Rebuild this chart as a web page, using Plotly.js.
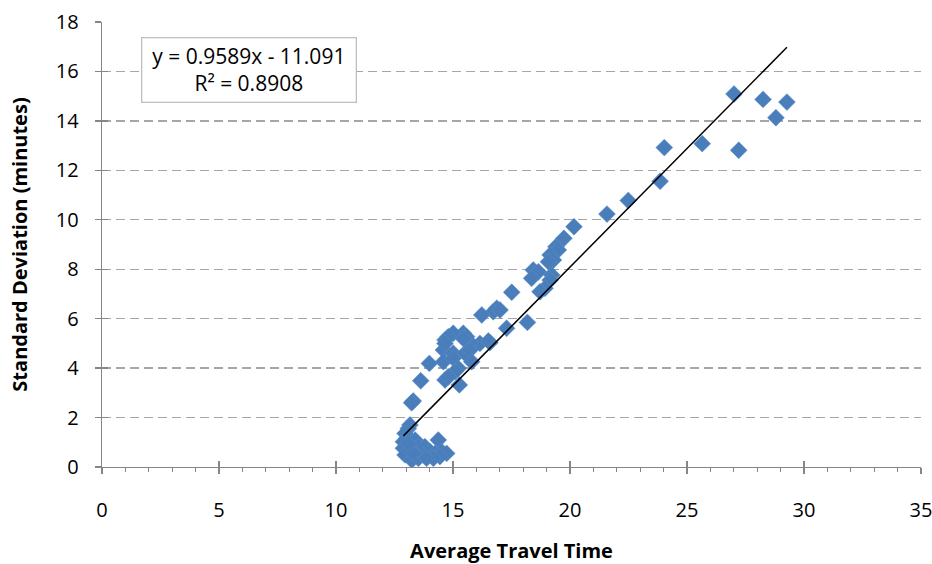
<!DOCTYPE html>
<html>
<head>
<meta charset="utf-8">
<script src="https://cdn.plot.ly/plotly-3.0.1.min.js"></script>
<style>
html,body{margin:0;padding:0;background:#fff;}
#chart{width:932px;height:564px;}
</style>
</head>
<body>
<div id="chart"></div>
<script>
// Average travel time (x) and standard deviation in minutes (y)
const avgTravelTime = [
  27.01, 28.25, 29.27, 28.80, 27.21, 25.65, 24.03, 23.85, 22.49, 21.58,
  20.17, 19.74, 19.40, 19.50, 19.15, 19.29, 19.08, 18.43, 18.65, 18.36,
  19.22, 19.15, 18.93, 18.72, 17.51, 16.87, 16.72, 17.01, 16.23, 18.18,
  17.29, 16.58, 16.15, 15.73, 15.44, 15.01, 15.58, 14.66, 14.80, 15.44,
  16.51, 14.59, 15.01, 15.51, 15.73, 14.59, 15.01, 15.80, 13.99, 15.23,
  15.09, 14.66, 14.80, 13.62, 15.27, 13.30, 13.23, 13.09, 13.16, 12.95,
  13.02, 12.88, 14.37, 13.38, 12.88, 13.16, 13.52, 13.80, 12.95, 13.24,
  13.52, 13.73, 14.02, 14.23, 14.52, 14.73, 14.44, 14.16, 13.87, 13.30,
  13.09, 14.66
];
const stdDeviation = [
  15.09, 14.87, 14.76, 14.13, 12.81, 13.08, 12.92, 11.56, 10.78, 10.23,
   9.72,  9.25,  8.91,  8.78,  8.58,  8.37,  8.30,  7.97,  7.90,  7.63,
   7.77,  7.56,  7.23,  7.09,  7.07,  6.42,  6.28,  6.35,  6.15,  5.85,
   5.61,  5.03,  5.00,  5.03,  5.41,  5.41,  5.27,  5.14,  5.27,  5.20,
   5.10,  4.73,  4.60,  4.60,  4.73,  4.26,  4.40,  4.26,  4.19,  3.99,
   3.86,  3.52,  3.65,  3.49,  3.32,  2.67,  2.60,  1.56,  1.70,  1.36,
   1.16,  1.02,  1.09,  1.09,  0.76,  0.69,  0.82,  0.82,  0.49,  0.28,
   0.35,  0.49,  0.62,  0.55,  0.62,  0.55,  0.42,  0.35,  0.35,  0.55,
   0.96,  5.00
];
// Trendline shown in the chart: y = 0.9589x - 11.091, R² = 0.8908
const trendSlope = 0.9589;
const trendIntercept = -11.091;
const trendLabel = ['y = 0.9589x - 11.091', 'R² = 0.8908'];
const xTickValues = [0, 5, 10, 15, 20, 25, 30, 35];
const yTickValues = [0, 2, 4, 6, 8, 10, 12, 14, 16, 18];

const xMin = Math.min(...avgTravelTime), xMax = Math.max(...avgTravelTime);
const trendX = [xMin, xMax];
const trendY = trendX.map(v => trendSlope * v + trendIntercept);

const font = '"Open Sans", Lato, sans-serif';
const axisCol = '#868686';
const fs = 20;

const traces = [
  {
    x: avgTravelTime, y: stdDeviation, type: 'scatter', mode: 'markers',
    marker: {symbol: 'diamond', size: 13, color: '#4A7EBB', line: {color: '#5B8FCB', width: 0.5}},
    hoverinfo: 'x+y', showlegend: false
  },
  {
    x: trendX, y: trendY, type: 'scatter', mode: 'lines',
    line: {color: '#000000', width: 1.5}, showlegend: false, hoverinfo: 'skip'
  },
  { x: [], y: [], xaxis: 'x2', yaxis: 'y2', type: 'scatter', mode: 'markers', showlegend: false }
];

const layout = {
  width: 932, height: 564,
  margin: {l: 102, r: 11, t: 22, b: 97},
  paper_bgcolor: '#ffffff', plot_bgcolor: '#ffffff',
  font: {family: font, size: fs, color: '#000'},
  showlegend: false,
  xaxis: {
    range: [0, 35], tickvals: xTickValues, ticktext: xTickValues.map(String),
    ticks: 'outside', ticklen: 6, tickcolor: axisCol, tickwidth: 1.3,
    minor: {dtick: 1, ticks: 'outside', ticklen: 4, tickcolor: axisCol, tickwidth: 1, showgrid: false},
    showline: true, linecolor: axisCol, linewidth: 1.3,
    showgrid: false, zeroline: false,
    ticklabelstandoff: 19,
    ticklabeloverflow: 'allow',
    tickfont: {family: font, size: fs, color: '#000'},
    title: {text: 'Average Travel Time', font: {family: font, size: fs, color: '#000', weight: 'bold'}, standoff: 24}
  },
  yaxis: {
    range: [0, 18], tickvals: yTickValues, ticktext: yTickValues.map(String),
    ticks: 'outside', ticklen: 6, tickcolor: axisCol, tickwidth: 1.3,
    showline: true, linecolor: axisCol, linewidth: 1.3,
    showgrid: true, gridcolor: '#A6A6A6', gridwidth: 1.3, griddash: '9px,5px',
    zeroline: false,
    ticklabelstandoff: 12,
    tickfont: {family: font, size: fs, color: '#000'},
    title: {text: 'Standard Deviation (minutes)', font: {family: font, size: fs, color: '#000', weight: 'bold'}, standoff: 22}
  },
  xaxis2: {
    overlaying: 'x', anchor: 'y2', range: [0, 35], tickvals: xTickValues,
    ticks: 'inside', ticklen: 6, tickcolor: axisCol, tickwidth: 1.3,
    showticklabels: false, showgrid: false, zeroline: false, showline: false
  },
  yaxis2: {
    overlaying: 'y', anchor: 'x2', range: [0, 18], tickvals: yTickValues,
    ticks: 'inside', ticklen: 6, tickcolor: axisCol, tickwidth: 1.3,
    showticklabels: false, showgrid: false, zeroline: false, showline: false
  },
  annotations: [{
    xref: 'paper', yref: 'paper', x: 0.0476, y: 0.966,
    xanchor: 'left', yanchor: 'top',
    text: trendLabel.join('<br>'), showarrow: false, align: 'center',
    font: {family: font, size: 21, color: '#000'},
    bordercolor: '#BFBFBF', borderwidth: 1.3, borderpad: 2, bgcolor: '#ffffff',
    width: 209, height: 59
  }]
};

Plotly.newPlot('chart', traces, layout, {displayModeBar: false, staticPlot: true});
</script>
</body>
</html>
